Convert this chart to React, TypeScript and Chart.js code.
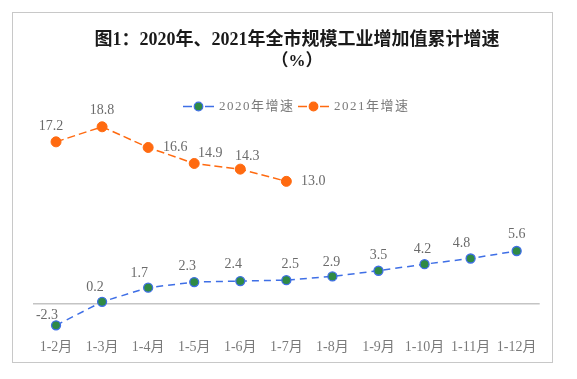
import React, { useEffect, useRef } from "react";
import { Chart, registerables } from "chart.js";

Chart.register(...registerables);

const categories = ["1-2月", "1-3月", "1-4月", "1-5月", "1-6月", "1-7月", "1-8月", "1-9月", "1-10月", "1-11月", "1-12月"];
const growth2020 = [-2.3, 0.2, 1.7, 2.3, 2.4, 2.5, 2.9, 3.5, 4.2, 4.8, 5.6];
const growth2021 = [17.2, 18.8, 16.6, 14.9, 14.3, 13.0];
const seriesNames = ["2020年增速", "2021年增速"];
const titleLines = ["图1：2020年、2021年全市规模工业增加值累计增速", "（%）"];

// label offsets (style only)
const offsets2020: [number, number][] = [
  [-9, -10], [-7, -14], [-9, -14], [-7, -16], [-7, -17], [4, -16], [-1, -14], [0, -15], [-2, -15], [-9, -15], [0, -17],
];
const offsets2021: [number, number][] = [
  [-5, -16], [0, -16], [27, 0], [16, -10], [7, -13], [27, 0],
];

const BLUE = "#3f6fe6";
const GREEN = "#2f8a45";
const ORANGE = "#ff6a10";
const LABEL = "#6b6b6b";
const SERIF = '"Liberation Serif", "DejaVu Serif", "Noto Sans CJK SC", serif';

export default function App() {
  const ref = useRef<HTMLCanvasElement>(null);
  useEffect(() => {
    const canvas = ref.current!;
    const overlay = {
      id: "overlay",
      afterDatasetsDraw(chart: any) {
        const ctx = chart.ctx as CanvasRenderingContext2D;
        ctx.save();
        ctx.font = `14px ${SERIF}`;
        ctx.fillStyle = LABEL;
        ctx.textAlign = "center";
        ctx.textBaseline = "middle";
        const m0 = chart.getDatasetMeta(0).data;
        growth2020.forEach((v, i) => {
          const p = m0[i];
          ctx.fillText(v.toFixed(1), p.x + offsets2020[i][0], p.y + offsets2020[i][1]);
        });
        const m1 = chart.getDatasetMeta(1).data;
        growth2021.forEach((v, i) => {
          const p = m1[i];
          ctx.fillText(v.toFixed(1), p.x + offsets2021[i][0], p.y + offsets2021[i][1]);
        });
        ctx.restore();
      },
      afterDraw(chart: any) {
        const ctx = chart.ctx as CanvasRenderingContext2D;
        ctx.save();
        // title
        ctx.fillStyle = "#1a1a1a";
        ctx.textAlign = "center";
        ctx.textBaseline = "middle";
        ctx.font = `bold 18px ${SERIF}`;
        ctx.fillText(titleLines[0], 297, 40);
        ctx.font = `bold 17px ${SERIF}`;
        ctx.fillText(titleLines[1], 297, 62);
        // legend
        const items = [
          { x: 183, line: BLUE, fill: GREEN, border: BLUE, text: seriesNames[0] },
          { x: 298, line: ORANGE, fill: ORANGE, border: ORANGE, text: seriesNames[1] },
        ];
        const ly = 106.5;
        items.forEach((it) => {
          ctx.strokeStyle = it.line;
          ctx.lineWidth = 1.5;
          ctx.beginPath();
          ctx.moveTo(it.x, ly);
          ctx.lineTo(it.x + 9, ly);
          ctx.moveTo(it.x + 22, ly);
          ctx.lineTo(it.x + 31, ly);
          ctx.stroke();
          ctx.beginPath();
          ctx.arc(it.x + 15.5, ly, 4.3, 0, Math.PI * 2);
          ctx.fillStyle = it.fill;
          ctx.fill();
          ctx.strokeStyle = it.border;
          ctx.lineWidth = 1.2;
          ctx.stroke();
          ctx.font = `13px ${SERIF}`;
          (ctx as any).letterSpacing = "1.5px";
          ctx.fillStyle = "#7a7a7a";
          ctx.textAlign = "left";
          ctx.fillText(it.text, it.x + 36, ly);
          (ctx as any).letterSpacing = "0px";
        });
        ctx.restore();
      },
    };
    const chart = new Chart(canvas, {
      type: "line",
      data: {
        labels: categories,
        datasets: [
          {
            label: seriesNames[0],
            data: growth2020,
            borderColor: BLUE,
            borderWidth: 1.5,
            borderDash: [7, 5],
            pointRadius: 4.5,
            pointBackgroundColor: GREEN,
            pointBorderColor: BLUE,
            pointBorderWidth: 1.3,
            tension: 0,
          },
          {
            label: seriesNames[1],
            data: growth2021,
            borderColor: ORANGE,
            borderWidth: 1.5,
            borderDash: [8, 4],
            pointRadius: 5,
            pointBackgroundColor: ORANGE,
            pointBorderColor: ORANGE,
            pointBorderWidth: 1,
            tension: 0,
          },
        ],
      },
      options: {
        responsive: false,
        animation: false,
        layout: { padding: { left: 33, right: 37.3, top: 115.5, bottom: 16.3 } },
        plugins: {
          legend: { display: false },
          title: { display: false },
          tooltip: { enabled: false },
        },
        scales: {
          x: {
            offset: true,
            grid: { display: false, drawTicks: false },
            border: { display: false },
            ticks: {
              color: "#7a7a7a",
              font: { family: SERIF, size: 14 },
              padding: 7,
              autoSkip: false,
              maxRotation: 0,
            },
          },
          y: {
            min: -3,
            max: 20,
            ticks: { display: false, stepSize: 1 },
            border: { display: false },
            grid: {
              drawTicks: false,
              lineWidth: 1.5,
              color: (c: any) => (c.tick && c.tick.value === 0 ? "#c4c4c4" : "rgba(0,0,0,0)"),
            },
          },
        },
      },
      plugins: [overlay],
    });
    return () => chart.destroy();
  }, []);
  return (
    <div style={{ position: "fixed", left: 0, top: 0, width: 577, height: 379, background: "#fff" }}>
      <div
        style={{
          position: "absolute",
          left: 12,
          top: 12,
          width: 541,
          height: 351,
          boxSizing: "border-box",
          border: "1px solid #c8c8c8",
        }}
      />
      <canvas ref={ref} width={577} height={379} style={{ position: "absolute", left: 0, top: 0, display: "block" }} />
    </div>
  );
}
